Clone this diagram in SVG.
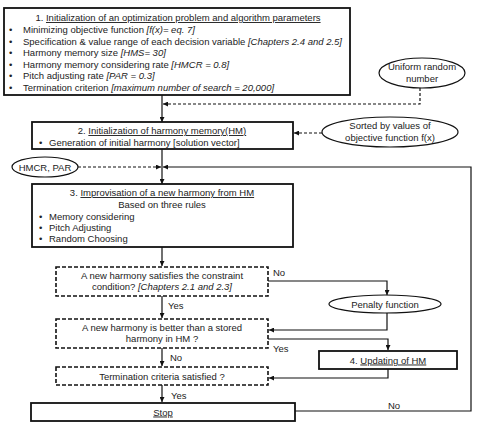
<svg xmlns="http://www.w3.org/2000/svg" width="487" height="430" viewBox="0 0 487 430">
<defs>
<marker id="ah" viewBox="0 0 10 10" refX="10" refY="5" markerWidth="5" markerHeight="5" orient="auto" markerUnits="userSpaceOnUse">
<path d="M0,0 L10,5 L0,10 z" fill="#111"/>
</marker>
</defs>
<style>
text{font-family:"Liberation Sans",Arial,sans-serif;font-size:9.5px;fill:#222}
.c{text-anchor:middle}
.i{font-style:italic}
.u{text-decoration:underline}
.box{fill:#fff;stroke:#111;stroke-width:1.8}
.dbox{fill:#fff;stroke:#111;stroke-width:1.6;stroke-dasharray:4,2}
.ell{fill:#fff;stroke:#111;stroke-width:1.2}
.ln{fill:none;stroke:#111;stroke-width:1.2}
.dl{fill:none;stroke:#111;stroke-width:1.2;stroke-dasharray:3,2}
</style>
<rect width="487" height="430" fill="#fff"/>
<g id="connectors">
<path class="ln" d="M162,95 V122" marker-end="url(#ah)"/>
<path class="dl" d="M420,88 V104 H163" marker-end="url(#ah)"/>
<path class="dl" d="M322,133 H294" marker-end="url(#ah)"/>
<path class="ln" d="M162,149 V184" marker-end="url(#ah)"/>
<path class="dl" d="M78,167 H161" marker-end="url(#ah)"/>
<path class="ln" d="M295,411 H471 V167 H163" marker-end="url(#ah)"/>
<path class="ln" d="M162,247 V266" marker-end="url(#ah)"/>
<path class="ln" d="M268,281 H387 V295" marker-end="url(#ah)"/>
<path class="ln" d="M162,296 V318" marker-end="url(#ah)"/>
<path class="ln" d="M387,313 V330 H269" marker-end="url(#ah)"/>
<path class="ln" d="M268,339 H388 V350" marker-end="url(#ah)"/>
<path class="ln" d="M162,348 V366" marker-end="url(#ah)"/>
<path class="ln" d="M388,369 V378 H269" marker-end="url(#ah)"/>
<path class="ln" d="M162,385 V402" marker-end="url(#ah)"/>
<text x="273" y="276">No</text>
<text x="168" y="309">Yes</text>
<text x="273" y="352">Yes</text>
<text x="170" y="361">No</text>
<text x="171" y="399">Yes</text>
<text x="388" y="409">No</text>
</g>
<g id="n1">
<rect class="box" x="4" y="8" width="346" height="87"/>
<text class="c" x="178" y="21">1. <tspan class="u">Initialization of an optimization problem and algorithm parameters</tspan></text>
<text x="9" y="33">•</text><text x="23" y="33">Minimizing objective function <tspan class="i">[f(x)= eq. 7]</tspan></text>
<text x="9" y="44.5">•</text><text x="23" y="44.5">Specification &amp; value range of each decision variable <tspan class="i">[Chapters 2.4 and 2.5]</tspan></text>
<text x="9" y="56">•</text><text x="23" y="56">Harmony memory size <tspan class="i">[HMS= 30]</tspan></text>
<text x="9" y="67.5">•</text><text x="23" y="67.5">Harmony memory considering rate <tspan class="i">[HMCR = 0.8]</tspan></text>
<text x="9" y="79">•</text><text x="23" y="79">Pitch adjusting rate <tspan class="i">[PAR = 0.3]</tspan></text>
<text x="9" y="90.5">•</text><text x="23" y="90.5">Termination criterion <tspan class="i">[maximum number of search = 20,000]</tspan></text>
</g>
<g id="n_uniform">
<ellipse class="ell" cx="422" cy="73" rx="43" ry="15"/>
<text class="c" x="422" y="70">Uniform random</text>
<text class="c" x="422" y="82">number</text>
</g>
<g id="n2">
<rect class="box" x="32" y="122" width="261" height="27"/>
<text class="c" x="162" y="134">2. <tspan class="u">Initialization of harmony memory(HM)</tspan></text>
<text x="39" y="146">•</text><text x="49" y="146">Generation of initial harmony [solution vector]</text>
</g>
<g id="n_sorted">
<ellipse class="ell" cx="390" cy="132" rx="68" ry="15"/>
<text class="c" x="390" y="129">Sorted by values of</text>
<text class="c" x="390" y="141">objective function f(x)</text>
</g>
<g id="n_hmcr">
<ellipse class="ell" cx="45" cy="167" rx="33" ry="10"/>
<text class="c" x="45" y="170.5">HMCR, PAR</text>
</g>
<g id="n3">
<rect class="box" x="32" y="184" width="261" height="63"/>
<text class="c" x="162" y="196">3. <tspan class="u">Improvisation of a new harmony from HM</tspan></text>
<text class="c" x="162" y="208">Based on three rules</text>
<text x="39" y="220">•</text><text x="49" y="220">Memory considering</text>
<text x="39" y="231">•</text><text x="49" y="231">Pitch Adjusting</text>
<text x="39" y="242">•</text><text x="49" y="242">Random Choosing</text>
</g>
<g id="d1">
<rect class="dbox" x="56" y="267" width="212" height="29"/>
<text class="c" x="162" y="278.5">A new harmony satisfies the constraint</text>
<text class="c" x="162" y="290">condition? <tspan class="i">[Chapters  2.1 and 2.3]</tspan></text>
</g>
<g id="n_penalty">
<ellipse class="ell" cx="385" cy="304" rx="56" ry="9"/>
<text class="c" x="385" y="307.5">Penalty function</text>
</g>
<g id="d2">
<rect class="dbox" x="56" y="319" width="212" height="29"/>
<text class="c" x="162" y="330.5">A new harmony is better than a stored</text>
<text class="c" x="162" y="342">harmony in HM ?</text>
</g>
<g id="n4">
<rect class="box" x="319" y="351" width="138" height="18"/>
<text class="c" x="388" y="363.5">4. <tspan class="u">Updating of HM</tspan></text>
</g>
<g id="d3">
<rect class="dbox" x="56" y="367" width="212" height="18"/>
<text class="c" x="162" y="379.5">Termination criteria satisfied ?</text>
</g>
<g id="stop">
<rect class="box" x="31" y="403" width="264" height="18"/>
<text class="c" x="163" y="415.5"><tspan class="u">Stop</tspan></text>
</g>
</svg>
